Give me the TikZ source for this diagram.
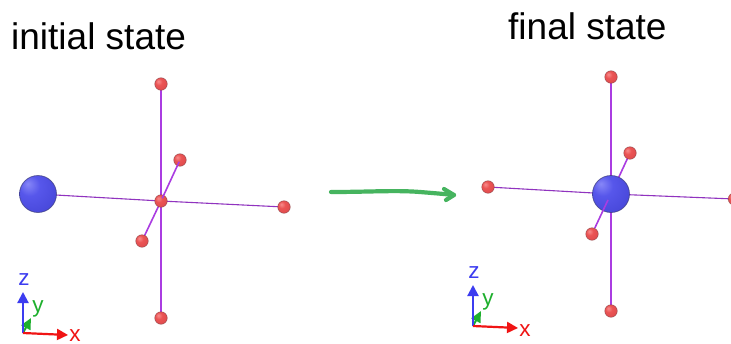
\documentclass[tikz,border=0pt]{standalone}
\usepackage{fontspec}
\setmainfont{Liberation Sans}
\usetikzlibrary{arrows.meta}
\definecolor{bondc}{RGB}{170,60,225}
\definecolor{redx}{RGB}{240,20,20}
\definecolor{bluez}{RGB}{60,60,240}
\definecolor{greeny}{RGB}{30,175,45}
\definecolor{arrowg}{RGB}{70,180,95}
\definecolor{redrim}{RGB}{140,70,75}
\definecolor{bluerim}{RGB}{60,60,125}
\pgfdeclareradialshading{redball}{\pgfqpoint{-11bp}{11bp}}{
 rgb(0bp)=(0.97,0.55,0.55);
 rgb(14bp)=(0.92,0.33,0.33);
 rgb(40bp)=(0.86,0.28,0.29);
 rgb(58bp)=(0.62,0.25,0.27);
 rgb(72bp)=(0.45,0.22,0.24)}
\pgfdeclareradialshading{blueball}{\pgfqpoint{-14bp}{14bp}}{
 rgb(0bp)=(0.53,0.53,0.97);
 rgb(14bp)=(0.34,0.34,0.92);
 rgb(40bp)=(0.27,0.27,0.84);
 rgb(56bp)=(0.22,0.22,0.60);
 rgb(74bp)=(0.16,0.16,0.36)}
\tikzset{
 x=1pt,y=-1pt,
 smallball/.style={circle,inner sep=0pt,minimum size=12.5pt,shading=redball,draw=redrim,draw opacity=.7,line width=.6pt},
 bigball/.style={circle,inner sep=0pt,minimum size=37pt,shading=blueball,draw=bluerim,draw opacity=.7,line width=.8pt},
 bond/.style={draw=bondc,line width=1.6pt},
 thinbond/.style={draw=bondc!85!black,line width=1.1pt},
 title/.style={anchor=base west,inner sep=0pt,font=\fontsize{37}{40}\selectfont,text=black},
 axlabel/.style={anchor=base,inner sep=0pt,font=\fontsize{22.5}{26}\selectfont},
 xarrow/.style={draw=redx,line width=2.2pt,-{Triangle[length=11pt,width=11pt]}},
 zarrow/.style={draw=bluez,line width=2.2pt,-{Triangle[length=11pt,width=11pt]}},
 yarrow/.style={draw=greeny,line width=2pt,-{Triangle[length=11pt,width=10pt]}},
 handarrow/.style={draw=arrowg,line width=4.2pt,line cap=round,line join=round}
}
\begin{document}
\begin{tikzpicture}
\useasboundingbox (0,0) rectangle (731,343);
\fill[white] (0,0) rectangle (731,343);
\clip (0,0) rectangle (731,343);
% titles
\node[title] (t1) at (11,49) {initial state};
\node[title] (t2) at (508,39) {final state};
% left molecule
\coordinate (lc) at (161,201);
\coordinate (lt) at (161,84);
\coordinate (lb) at (161,318);
\coordinate (lr) at (284,207);
\coordinate (lu) at (180,160);
\coordinate (ld) at (142,241);
\coordinate (ll) at (38,194);
\draw[bond] (lt) -- (lb);
\draw[thinbond] (ll) -- (lc);
\draw[thinbond] (lc) -- (lr);
\draw[bond] (lc) -- (ld);
\node[smallball] (nlt) at (lt) {};
\node[smallball] (nlb) at (lb) {};
\node[smallball] (nlr) at (lr) {};
\node[smallball] (nlu) at (lu) {};
\node[smallball] (nld) at (ld) {};
\node[smallball] (nlc) at (lc) {};
\node[bigball] (nll) at (ll) {};
\draw[bond,shorten >=2pt,shorten <=3pt] (lc) -- (lu);
% right molecule
\coordinate (rc) at (611,194);
\coordinate (rt) at (611,77);
\coordinate (rb) at (611,311);
\coordinate (rl) at (488,187);
\coordinate (rr) at (734.5,199);
\coordinate (ru) at (630,153);
\coordinate (rd) at (592,234);
\coordinate (rin) at (608,200);
\draw[bond] (rt) -- (rb);
\draw[thinbond] (rl) -- (rc);
\draw[thinbond] (rc) -- (rr);
\draw[bond] (rc) -- (ru);
\node[smallball] (nrt) at (rt) {};
\node[smallball] (nrb) at (rb) {};
\node[smallball] (nrl) at (rl) {};
\node[smallball] (nrr) at (rr) {};
\node[smallball] (nru) at (ru) {};
\node[bigball] (nrc) at (rc) {};
\node[smallball] (nrd) at (rd) {};
\draw[bond] (nrd) -- (rin);
% green arrow
\coordinate (g0) at (331,192);
\coordinate (g1) at (454,195);
\coordinate (g2) at (444,189);
\coordinate (g3) at (446,200);
\draw[handarrow] (g0) .. controls (370,192) and (395,190) .. (420,192) .. controls (432,193) and (445,194) .. (g1);
\draw[handarrow] (g2) -- (g1) -- (g3);
% left axes
\coordinate (ao) at (23,333);
\coordinate (ax) at (68,335);
\coordinate (az) at (23,292);
\coordinate (ay) at (31,318);
\draw[yarrow] (ao) -- (ay);
\draw[zarrow] (ao) -- (az);
\draw[xarrow] (ao) -- (ax);
\node[axlabel,text=bluez] (lz) at (24,285) {z};
\node[axlabel,text=greeny] (ly) at (38,312) {y};
\node[axlabel,text=redx] (lx) at (75,341) {x};
% right axes
\coordinate (bo) at (473,326);
\coordinate (bx) at (518,328);
\coordinate (bz) at (473,285);
\coordinate (by) at (481,311);
\draw[yarrow] (bo) -- (by);
\draw[zarrow] (bo) -- (bz);
\draw[xarrow] (bo) -- (bx);
\node[axlabel,text=bluez] (rz) at (474,278) {z};
\node[axlabel,text=greeny] (ry) at (488,305) {y};
\node[axlabel,text=redx] (rx) at (525,336) {x};
\end{tikzpicture}
\end{document}
